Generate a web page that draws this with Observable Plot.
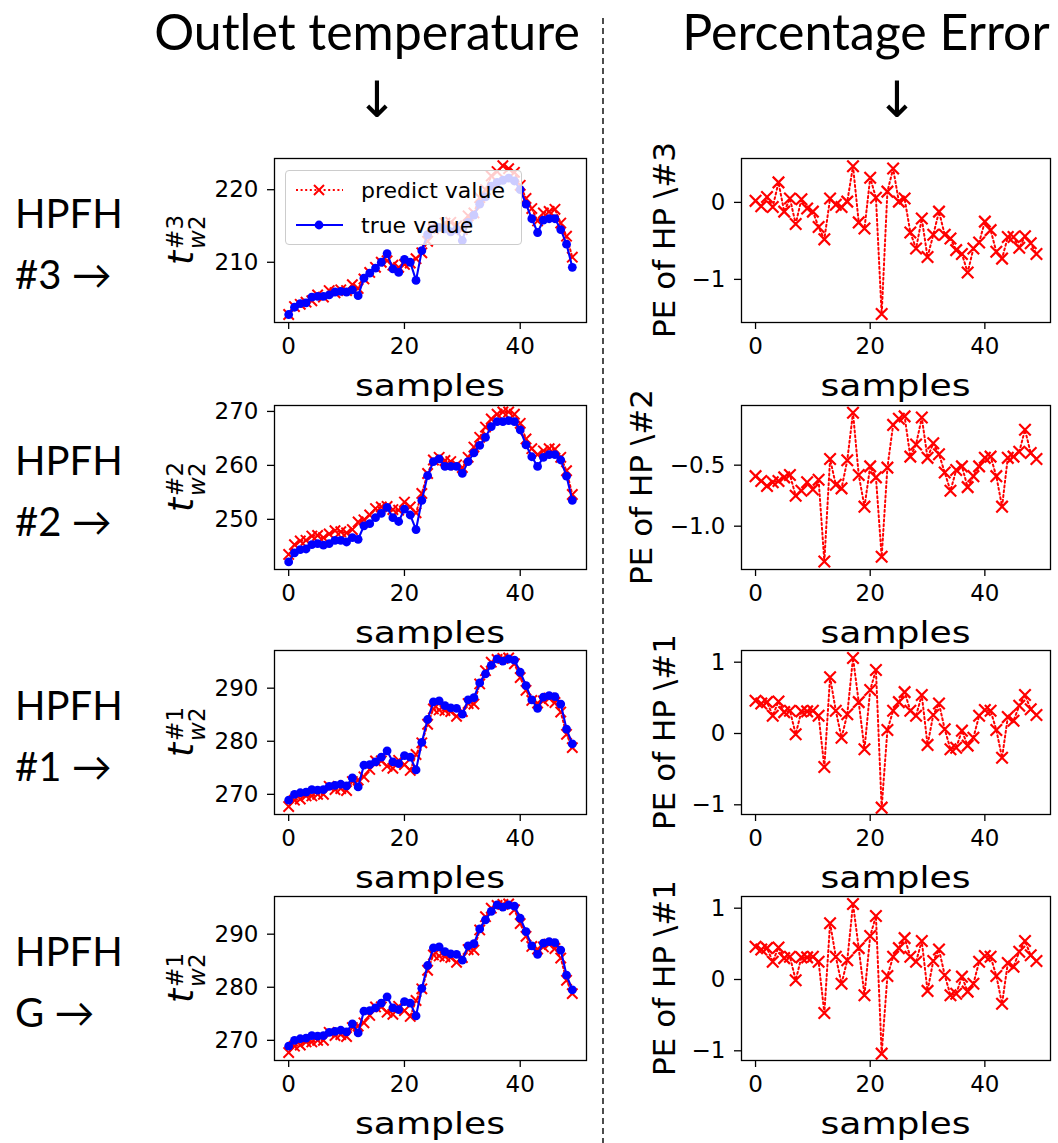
<!DOCTYPE html>
<html><head><meta charset="utf-8">
<script src="https://cdn.jsdelivr.net/npm/d3@7"></script>
<script src="https://cdn.jsdelivr.net/npm/@observablehq/plot@0.6"></script>
<style>
body{margin:0;background:#fff;}
#page{position:relative;width:1058px;height:1143px;overflow:hidden;background:#fff;}
.legend{position:absolute;background:rgba(255,255,255,0.8);border:1px solid #cccccc;border-radius:4px;box-sizing:border-box;font-family:"DejaVu Sans";font-size:22px;color:#000;}
.legend .row{position:absolute;left:0;height:30px;display:flex;align-items:center;white-space:nowrap;}
</style></head><body><div id="page"></div>
<script>
// ---------- data ----------
const samples = [0,1,2,3,4,5,6,7,8,9,10,11,12,13,14,15,16,17,18,19,20,21,22,23,24,25,26,27,28,29,30,31,32,33,34,35,36,37,38,39,40,41,42,43,44,45,46,47,48,49];
const xTicks = [0,20,40];

const true3 = [202.8,203.8,204.3,204.4,205.2,205.3,205.3,205.5,205.9,206.0,205.9,206.2,205.4,207.8,208.5,209.2,210.0,211.2,209.1,208.6,210.4,210.0,207.5,211.6,213.8,214.6,214.8,214.6,214.2,214.5,213.0,215.5,216.5,218.0,219.0,220.5,221.0,221.3,221.6,221.2,220.0,218.0,216.0,214.1,215.8,216.0,216.0,214.5,212.5,209.3];
const pred3 = [202.8,203.9,204.2,204.5,204.7,205.5,205.2,206.1,205.8,206.2,206.1,206.9,206.4,207.7,208.6,209.3,210.0,210.2,209.6,209.3,209.7,209.9,210.5,211.3,212.9,214.6,214.7,215.4,215.5,215.0,214.5,216.4,216.8,218.9,220.0,221.9,222.5,223.3,222.9,222.4,220.6,218.8,217.4,215.7,216.8,217.0,217.3,215.4,213.6,210.7];
const pe3 = [0.02,-0.05,0.07,-0.06,0.26,-0.12,0.05,-0.28,0.04,-0.08,-0.12,-0.32,-0.48,0.05,-0.03,-0.06,0.01,0.47,-0.26,-0.34,0.32,0.06,-1.45,0.14,0.44,0.01,0.05,-0.39,-0.60,-0.21,-0.71,-0.42,-0.12,-0.42,-0.47,-0.62,-0.67,-0.91,-0.60,-0.52,-0.25,-0.36,-0.64,-0.73,-0.45,-0.45,-0.59,-0.44,-0.53,-0.67];

const true2 = [242.1,243.8,244.4,244.5,245.3,245.5,245.2,245.5,246.1,246.1,245.8,246.6,246.3,248.8,249.2,250.3,251.1,252.2,250.3,249.6,251.9,250.8,248.1,253.5,258.1,260.7,261.2,259.8,259.8,259.8,258.5,260.7,262.3,263.7,265.2,267.2,268.1,268.1,268.3,268.1,266.6,263.8,261.6,259.8,261.5,262.0,262.0,261.0,258.0,253.5];
const pred2 = [243.5,245.3,246.0,246.1,246.9,247.0,246.6,247.3,247.9,247.7,247.5,248.1,249.5,249.9,250.8,252.0,252.3,252.4,251.8,251.7,253.2,252.3,251.2,254.8,258.5,261.0,261.5,260.9,260.7,260.1,259.6,261.5,263.4,265.2,267.1,268.6,269.5,269.9,269.9,269.5,267.8,264.9,263.1,262.0,262.7,263.1,263.0,261.5,259.0,254.6];
const pe2 = [-0.59,-0.63,-0.67,-0.64,-0.63,-0.60,-0.58,-0.75,-0.71,-0.64,-0.70,-0.62,-1.29,-0.45,-0.66,-0.69,-0.46,-0.07,-0.58,-0.84,-0.51,-0.60,-1.25,-0.52,-0.17,-0.12,-0.10,-0.43,-0.33,-0.11,-0.44,-0.32,-0.41,-0.56,-0.71,-0.54,-0.51,-0.68,-0.59,-0.51,-0.44,-0.43,-0.59,-0.84,-0.44,-0.43,-0.39,-0.21,-0.40,-0.45];

const true1 = [268.9,270.0,270.3,270.4,270.9,270.8,270.9,271.5,271.7,271.9,271.6,273.1,271.4,275.5,275.6,276.1,277.0,278.2,276.1,275.8,277.3,277.0,274.6,279.8,284.1,287.4,287.6,286.7,286.3,286.2,285.1,287.8,288.2,291.0,292.7,294.3,295.5,295.1,295.5,295.3,293.0,290.5,287.8,286.2,288.3,288.6,288.4,287.0,282.3,279.5];
const pred1 = [267.7,268.9,269.1,269.7,269.7,270.0,270.0,271.5,270.9,271.1,270.7,272.4,272.7,273.3,274.7,276.3,276.3,275.3,274.9,276.4,275.6,274.5,277.5,279.7,283.2,286.1,285.9,285.8,285.6,284.7,285.6,287.1,287.0,290.8,293.3,294.9,295.4,295.6,295.7,294.6,292.0,289.6,287.7,287.2,287.6,288.1,287.3,285.5,281.3,278.8];
const pe1 = [0.46,0.42,0.44,0.25,0.45,0.30,0.32,-0.01,0.31,0.31,0.32,0.25,-0.47,0.79,0.32,-0.06,0.27,1.06,0.44,-0.22,0.61,0.89,-1.04,0.05,0.32,0.44,0.58,0.32,0.25,0.54,-0.16,0.26,0.42,0.06,-0.22,-0.20,0.04,-0.17,-0.06,0.25,0.33,0.32,0.05,-0.34,0.23,0.18,0.39,0.54,0.34,0.26];

// HPFH G panels show the same values as HPFH #1
const trueG = true1;
const predG = pred1;
const peG = pe1;

const rowNames = ["HPFH", "HPFH", "HPFH", "HPFH"];
const rowTags = ["#3 \u2192", "#2 \u2192", "#1 \u2192", "G \u2192"];
const tempSup = ["#3", "#2", "#1", "#1"];
const peLabels = ["PE of HP \\#3", "PE of HP \\#2", "PE of HP \\#1", "PE of HP \\#1"];
const tempTicks = [[210, 220], [250, 260, 270], [270, 280, 290], [270, 280, 290]];
const peTicks = [[-1, 0], [-1.0, -0.5], [-1, 0, 1], [-1, 0, 1]];

// ---------- layout ----------
const W = 1058, H = 1143;
const rowTops = [158, 405, 650, 896];
const frameH = 164;
const LX = 274, LW = 312, RX = 741, RW = 309;
const mL = 120, mR = 6, mT = 10, mB = 85;
const tempDomains = [[201.7, 224.3], [240.7, 271.1], [266.2, 297.1], [266.2, 297.1]];
const peDomains = [[-1.56, 0.57], [-1.355, -0.011], [-1.136, 1.164], [-1.136, 1.164]];
const peLabelX = [675, 652, 675, 675];
const xDomain = [-2.45, 51.45];

const RED = "#ff0000", BLUE = "#0000ff";
const page = d3.select("#page");

// annotations
const ann = page.append("svg").attr("width", W).attr("height", H)
  .style("position", "absolute").style("left", "0px").style("top", "0px");
ann.append("line").attr("x1", 603).attr("x2", 603).attr("y1", 18).attr("y2", H)
  .attr("stroke", "#000").attr("stroke-width", 1.4).attr("stroke-dasharray", "6,4");
const hdrFont = "Lato, 'Open Sans', sans-serif";
ann.append("text").attr("x", 367).attr("y", 50).attr("text-anchor", "middle")
  .attr("font-family", hdrFont).attr("font-size", 50).text("Outlet temperature");
ann.append("text").attr("x", 866).attr("y", 50).attr("text-anchor", "middle")
  .attr("font-family", hdrFont).attr("font-size", 50).text("Percentage Error");
[377, 897].forEach(x => ann.append("text").attr("x", x).attr("y", 117).attr("text-anchor", "middle")
  .attr("font-family", "DejaVu Sans").attr("font-size", 50).text("\u2193"));
rowTops.forEach((t, i) => {
  ann.append("text").attr("x", 15).attr("y", t + 70).attr("font-family", hdrFont)
    .attr("font-size", 40).text(rowNames[i]);
  ann.append("text").attr("x", 15).attr("y", t + 131).attr("font-family", hdrFont)
    .attr("font-size", 40).text(rowTags[i]);
});

function fmtInt(d) { return d < 0 ? "\u2212" + Math.abs(d) : String(d); }
function fmtOne(d) { return d < 0 ? "\u2212" + Math.abs(d).toFixed(1) : d.toFixed(1); }

function makePanel(frameX, frameW, top, yDomain, yTicks, yFmt, dataMarks) {
  const el = Plot.plot({
    width: mL + frameW + mR, height: mT + frameH + mB,
    marginLeft: mL, marginRight: mR, marginTop: mT, marginBottom: mB,
    style: {fontFamily: "DejaVu Sans", fontSize: "23px", color: "black", background: "transparent", overflow: "visible"},
    x: {domain: xDomain},
    y: {domain: yDomain},
    marks: [
      ...dataMarks,
      Plot.axisX({ticks: xTicks, tickSize: 7, tickPadding: 8, fontSize: 23, label: null, strokeWidth: 1.3}),
      Plot.axisY({ticks: yTicks, tickSize: 7, tickPadding: 9, fontSize: 23, label: null, tickFormat: yFmt, strokeWidth: 1.3}),
      Plot.frame({stroke: "black", strokeWidth: 1.3})
    ]
  });
  d3.select(el).style("position", "absolute").style("left", (frameX - mL) + "px").style("top", (top - mT) + "px");
  page.node().appendChild(el);
  const svg = d3.select(el);
  svg.append("text").attr("x", mL + frameW / 2).attr("y", mT + frameH + 74)
    .attr("text-anchor", "middle").attr("font-family", "DejaVu Sans").attr("font-size", 31)
    .attr("textLength", 150).attr("lengthAdjust", "spacingAndGlyphs")
    .attr("fill", "#000").text("samples");
  return svg;
}

rowTops.forEach((top, i) => {
  const tv = [true3, true2, true1, trueG][i];
  const pv = [pred3, pred2, pred1, predG][i];
  const ev = [pe3, pe2, pe1, peG][i];
  // left: outlet temperature
  const sl = makePanel(LX, LW, top, tempDomains[i], tempTicks[i], fmtInt, [
    Plot.line(samples, {x: samples, y: pv, stroke: RED, strokeWidth: 2, strokeDasharray: "2,2.6"}),
    Plot.dot(samples, {x: samples, y: pv, symbol: "times", r: 4.8, stroke: RED, strokeWidth: 2}),
    Plot.line(samples, {x: samples, y: tv, stroke: BLUE, strokeWidth: 2.1}),
    Plot.dot(samples, {x: samples, y: tv, r: 4.4, fill: BLUE, stroke: "none"})
  ]);
  const lab = sl.append("text").attr("transform", `translate(${193 - (LX - mL)},${mT + frameH / 2}) rotate(-90)`)
    .attr("text-anchor", "middle").attr("font-family", "DejaVu Sans").attr("fill", "#000");
  lab.append("tspan").attr("font-style", "italic").attr("font-size", 36).text("t");
  lab.append("tspan").attr("font-size", 23).attr("dx", 2).attr("dy", -10).text(tempSup[i]);
  lab.append("tspan").attr("font-size", 23).attr("dx", -33.9).attr("dy", 22).attr("font-style", "italic").text("w");
  lab.append("tspan").attr("font-size", 23).text("2");
  // right: percentage error
  const sr = makePanel(RX, RW, top, peDomains[i], peTicks[i], i === 1 ? fmtOne : fmtInt, [
    Plot.line(samples, {x: samples, y: ev, stroke: RED, strokeWidth: 2, strokeDasharray: "2,2.8"}),
    Plot.dot(samples, {x: samples, y: ev, symbol: "times", r: 5.3, stroke: RED, strokeWidth: 2.2})
  ]);
  sr.append("text").attr("transform", `translate(${peLabelX[i] - (RX - mL)},${mT + frameH / 2}) rotate(-90)`)
    .attr("text-anchor", "middle").attr("font-family", "DejaVu Sans").attr("font-size", 31)
    .attr("fill", "#000").text(peLabels[i]);
});

// legend of the first temperature panel
const legend = page.append("div").attr("class", "legend")
  .style("left", "285px").style("top", "170px").style("width", "237px").style("height", "75px");
const legendItems = [
  {label: "predict value", color: RED, dash: "2,2.6", marker: "x"},
  {label: "true value", color: BLUE, dash: null, marker: "o"}
];
legendItems.forEach((it, k) => {
  const row = legend.append("div").attr("class", "row").style("top", (4 + k * 35) + "px");
  const s = row.append("svg").attr("width", 66).attr("height", 30).style("margin-left", "9px");
  s.append("line").attr("x1", 1).attr("x2", 48).attr("y1", 15).attr("y2", 15)
    .attr("stroke", it.color).attr("stroke-width", 2).attr("stroke-dasharray", it.dash);
  if (it.marker === "x") {
    s.append("path").attr("d", "M19,10L29,20M19,20L29,10").attr("stroke", it.color).attr("stroke-width", 2);
  } else {
    s.append("circle").attr("cx", 24).attr("cy", 15).attr("r", 4.4).attr("fill", it.color);
  }
  row.append("span").text(it.label);
});
</script></body></html>
